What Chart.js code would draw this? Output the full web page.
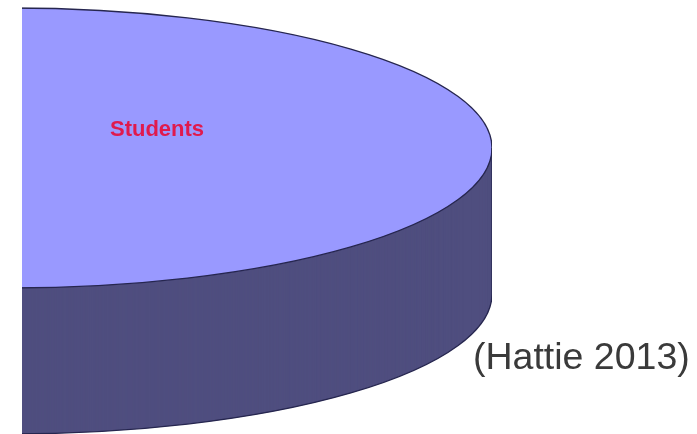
<!DOCTYPE html>
<html>
<head>
<meta charset="utf-8">
<script src="https://cdn.jsdelivr.net/npm/chart.js@4.4.1/dist/chart.umd.min.js"></script>
<style>
  html, body { margin: 0; padding: 0; background: #ffffff; }
  body { width: 697px; height: 434px; position: relative; overflow: hidden; }
  #pieWrap { position: absolute; left: 22px; top: 0; width: 675px; height: 434px; overflow: hidden; }
  #pie3d { position: absolute; left: -494px; top: -334px; }
  #source {
    position: absolute; left: 473px; top: 335px;
    font: 37.5px "Liberation Sans", Arial, sans-serif; color: #3a3a3a;
    white-space: nowrap;
  }
</style>
</head>
<body>
<div id="pieWrap"><canvas id="pie3d" width="964" height="964"></canvas></div>
<div id="source">(Hattie 2013)</div>
<script>
/* 3D pie: single "Students" slice, tilted and extruded by a small plugin. */
var categories = ["Students"];
var shares = [100];

var topColor = "#9999ff";
var sideColor = "#4f4e7f";
var edgeColor = "#26264f";
var labelColor = "#e01a4d";

var tilt = 140 / 482;   // vertical squash of the pie top
var depth = 146;        // thickness of the cylinder, px

function squash(ctx, arc) {
  ctx.translate(arc.x, arc.y);
  ctx.scale(1, tilt);
  ctx.translate(-arc.x, -arc.y);
}

function arcPath(ctx, arc, a0, a1) {
  ctx.beginPath();
  ctx.arc(arc.x, arc.y, arc.outerRadius, a0, a1);
}

var pie3dPlugin = {
  id: "pie3d",
  beforeDatasetsDraw: function (chart) {
    var ctx = chart.ctx;
    var meta = chart.getDatasetMeta(0);
    meta.data.forEach(function (arc) {
      for (var d = depth; d >= 1; d--) {
        ctx.save();
        ctx.translate(0, d);
        squash(ctx, arc);
        ctx.beginPath();
        ctx.moveTo(arc.x, arc.y);
        ctx.arc(arc.x, arc.y, arc.outerRadius, arc.startAngle, arc.endAngle);
        ctx.closePath();
        ctx.fillStyle = sideColor;
        ctx.fill();
        ctx.restore();
      }
    });
    ctx.save();
    if (meta.data[0]) squash(ctx, meta.data[0]);
  },
  afterDatasetsDraw: function (chart) {
    var ctx = chart.ctx;
    ctx.restore();
    var meta = chart.getDatasetMeta(0);
    meta.data.forEach(function (arc, i) {
      // outlines, built in tilted space and stroked with an even width
      ctx.save();
      squash(ctx, arc);
      arcPath(ctx, arc, 0, Math.PI * 2);
      ctx.restore();
      ctx.strokeStyle = edgeColor;
      ctx.lineWidth = 1.3;
      ctx.stroke();

      ctx.save();
      ctx.translate(0, depth);
      squash(ctx, arc);
      arcPath(ctx, arc, 0, Math.PI);
      ctx.restore();
      ctx.stroke();

      ctx.beginPath();
      ctx.moveTo(arc.x + arc.outerRadius, arc.y);
      ctx.lineTo(arc.x + arc.outerRadius, arc.y + depth);
      ctx.stroke();

      // slice label
      ctx.save();
      ctx.font = "bold 22px 'Liberation Sans', Arial, sans-serif";
      ctx.fillStyle = labelColor;
      ctx.textAlign = "center";
      ctx.textBaseline = "middle";
      ctx.fillText(categories[i], arc.x + arc.outerRadius * 0.305, arc.y - arc.outerRadius * tilt * 0.13);
      ctx.restore();
    });
  },
};

new Chart(document.getElementById("pie3d"), {
  type: "pie",
  plugins: [pie3dPlugin],
  data: {
    labels: categories,
    datasets: [
      {
        data: shares,
        backgroundColor: [topColor],
        borderWidth: 0,
        hoverOffset: 0,
      },
    ],
  },
  options: {
    responsive: false,
    animation: false,
    layout: { padding: 0 },
    events: [],
    plugins: {
      legend: { display: false },
      tooltip: { enabled: false },
    },
  },
});
</script>
</body>
</html>
